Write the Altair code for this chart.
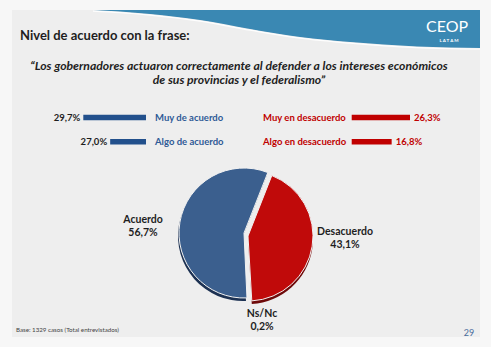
import math
import altair as alt
import pandas as pd

# ---------------- data ----------------
left_labels = ["Muy de acuerdo", "Algo de acuerdo"]
left_values = [29.7, 27.0]
right_labels = ["Muy en desacuerdo", "Algo en desacuerdo"]
right_values = [26.3, 16.8]
row_keys = ["Muy", "Algo"]

pie_labels = ["Desacuerdo", "Ns/Nc", "Acuerdo"]
pie_values = [43.1, 0.2, 56.7]

title_text = "Nivel de acuerdo con la frase:"
quote_lines = [
    "\u201cLos gobernadores actuaron correctamente al defender a los intereses econ\u00f3micos",
    "de sus provincias y el federalismo\u201d",
]
base_text = "Base: 1329 casos (Total entrevistados)"
page_text = "29"

# decorative header wave (lower edge of the blue band)
wave_x = [93, 120, 150, 200, 250, 300, 350, 417, 480]
wave_y = [10, 11.5, 14, 20, 29, 37, 42, 46.5, 48]


def fmt(v):
    return f"{v:.1f}".replace(".", ",") + "%"


left_df = pd.DataFrame({"row": row_keys, "label": left_labels, "value": left_values,
                        "txt": [fmt(v) for v in left_values]})
right_df = pd.DataFrame({"row": row_keys, "label": right_labels, "value": right_values,
                         "txt": [fmt(v) for v in right_values]})
pie_df = pd.DataFrame({"cat": pie_labels, "value": pie_values, "ord": [0, 1, 2],
                       "txt": [f"{c}\n{fmt(v)}" for c, v in zip(pie_labels, pie_values)]})
wave_df = pd.DataFrame({"x": wave_x, "y": wave_y})

FONT = "Lato"
BLUE_TXT = "#2e5a96"
RED = "#c00000"
DARK = "#1e1e1e"

W, H = 491, 347
TOP = 10

# identity pixel scales for the decorative header
px_x = alt.Scale(domain=[0, W], range=[0, W], zero=False, nice=False)
px_y = alt.Scale(domain=[0, H], range=[0, H], zero=False, nice=False)

# ---------------- background ----------------
panel = alt.Chart(pd.DataFrame({"a": [0]})).mark_rect(color="#eeeeee").encode(
    x=alt.value(12), x2=alt.value(480), y=alt.value(TOP), y2=alt.value(337))

wave = (alt.Chart(wave_df)
        .transform_calculate(top=str(TOP))
        .mark_area(interpolate="monotone", color="#3a88b3")
        .encode(x=alt.X("x:Q", scale=px_x, axis=None),
                y=alt.Y("y:Q", scale=px_y, axis=None, stack=None),
                y2="top:Q"))
wave_hl = alt.Chart(wave_df).transform_calculate(y2="datum.y + 1.2").mark_line(
    interpolate="monotone", color="#ffffff", strokeWidth=1.3, opacity=0.9).encode(
    x=alt.X("x:Q", scale=px_x, axis=None),
    y=alt.Y("y2:Q", scale=px_y, axis=None))

logo = alt.Chart(pd.DataFrame({"t": ["CEOP"]})).mark_text(
    font=FONT, fontSize=16, color="white", align="center", baseline="alphabetic").encode(
    x=alt.value(447), y=alt.value(32), text="t:N")
logo2 = alt.Chart(pd.DataFrame({"t": ["L  A  T  A  M"]})).mark_text(
    font=FONT, fontSize=4.5, fontWeight="bold", color="white", align="center",
    baseline="alphabetic").encode(x=alt.value(449), y=alt.value(42), text="t:N")

title = alt.Chart(pd.DataFrame({"t": [title_text]})).mark_text(
    font=FONT, fontSize=13, fontWeight="bold", color=DARK, align="left",
    baseline="alphabetic").encode(x=alt.value(20), y=alt.value(39.5), text="t:N")

quote = alt.Chart(pd.DataFrame({"t": ["\n".join(quote_lines)]})).mark_text(
    font=FONT, fontSize=12.2, fontWeight="bold", fontStyle="italic", color=DARK,
    align="center", baseline="alphabetic", lineBreak="\n", lineHeight=14).encode(
    x=alt.value(239), y=alt.value(70), text="t:N")

# ---------------- bars ----------------
yscale = alt.Scale(type="point", domain=row_keys, range=[117.5, 141.8], padding=0)
LMIN, RMIN = 23.4, -3.9
lscale = alt.Scale(domain=[LMIN, 29.7], range=[146, 83.3])
rscale = alt.Scale(domain=[RMIN, 26.3], range=[351.7, 410])

lbars = alt.Chart(left_df).mark_bar(color="#22508c", size=5.5).encode(
    x=alt.X("value:Q", scale=lscale, axis=None, stack=None), x2=alt.datum(LMIN),
    y=alt.Y("row:N", scale=yscale, axis=None))
ltxt = alt.Chart(left_df).mark_text(
    font=FONT, fontSize=9.5, fontWeight="bold", color=DARK, align="right",
    baseline="middle", dx=-3).encode(
    x=alt.X("value:Q", scale=lscale, axis=None),
    y=alt.Y("row:N", scale=yscale, axis=None), text="txt:N")
llab = alt.Chart(left_df).mark_text(
    font=FONT, fontSize=9.5, fontWeight="bold", color=BLUE_TXT, align="left",
    baseline="middle").encode(
    x=alt.value(155), y=alt.Y("row:N", scale=yscale, axis=None), text="label:N")

rbars = alt.Chart(right_df).mark_bar(color=RED, size=5.5).encode(
    x=alt.X("value:Q", scale=rscale, axis=None, stack=None), x2=alt.datum(RMIN),
    y=alt.Y("row:N", scale=yscale, axis=None))
rtxt = alt.Chart(right_df).mark_text(
    font=FONT, fontSize=9.5, fontWeight="bold", color=RED, align="left",
    baseline="middle", dx=4).encode(
    x=alt.X("value:Q", scale=rscale, axis=None),
    y=alt.Y("row:N", scale=yscale, axis=None), text="txt:N")
rlab = alt.Chart(right_df).mark_text(
    font=FONT, fontSize=9.5, fontWeight="bold", color=RED, align="left",
    baseline="middle").encode(
    x=alt.value(263), y=alt.Y("row:N", scale=yscale, axis=None), text="label:N")

# ---------------- pie ----------------
start = math.radians(21.5)
tscale = alt.Scale(domain=[0, 1], range=[start, start + 2 * math.pi])
CX, CY, R = 244, 233, 65


def pie_base():
    return (alt.Chart(pie_df)
            .transform_window(cum="sum(value)", sort=[alt.SortField("ord")], frame=[None, 0])
            .transform_joinaggregate(total="sum(value)")
            .transform_calculate(t0="(datum.cum - datum.value) / datum.total",
                                 t1="datum.cum / datum.total"))


def arc_layer(cats, colors, cx, cy, stroke=True):
    mk = dict(radius=R)
    if stroke:
        mk.update(stroke="#f2f2f2", strokeWidth=1)
    return (pie_base()
            .transform_filter(alt.FieldOneOfPredicate(field="cat", oneOf=cats))
            .mark_arc(**mk)
            .encode(theta=alt.Theta("t0:Q", scale=tscale),
                    theta2="t1:Q",
                    color=alt.Color("cat:N", scale=alt.Scale(domain=cats, range=colors),
                                    legend=None),
                    x=alt.value(cx), y=alt.value(cy)))


sh_blue = arc_layer(["Acuerdo"], ["#1c3152"], CX - 1, CY + 3, stroke=False)
sh_red = arc_layer(["Desacuerdo"], ["#6e0a0a"], CX + 4, CY + 6, stroke=False)
main_blue = arc_layer(["Acuerdo", "Ns/Nc"], ["#3b5f8e", "#d8d8d8"], CX, CY)
main_red = arc_layer(["Desacuerdo"], ["#c00a0a"], CX + 4, CY + 3)

label_pos = {"Acuerdo": (143, 220), "Desacuerdo": (345, 232), "Ns/Nc": (262, 314)}
pie_txt = []
for c, (px, py) in label_pos.items():
    pie_txt.append(
        alt.Chart(pie_df).transform_filter(alt.datum.cat == c).mark_text(
            font=FONT, fontSize=10.5, fontWeight="bold", color=DARK, align="center",
            baseline="middle", lineBreak="\n", lineHeight=13).encode(
            x=alt.value(px), y=alt.value(py), text="txt:N"))

# ---------------- footer ----------------
base = alt.Chart(pd.DataFrame({"t": [base_text]})).mark_text(
    font=FONT, fontSize=6.2, color="#444444", align="left", baseline="middle").encode(
    x=alt.value(16), y=alt.value(330), text="t:N")
page = alt.Chart(pd.DataFrame({"t": [page_text]})).mark_text(
    font=FONT, fontSize=9, color="#4a6d9c", align="center", baseline="middle").encode(
    x=alt.value(469), y=alt.value(333), text="t:N")

chart = alt.layer(
    panel, wave, wave_hl, logo, logo2, title, quote,
    lbars, ltxt, llab, rbars, rtxt, rlab,
    sh_blue, sh_red, main_blue, main_red, *pie_txt,
    base, page,
).resolve_scale(x="independent", y="independent", theta="independent",
                color="independent").properties(
    width=W, height=H, background="#f7f7f7", padding=0,
    autosize=alt.AutoSizeParams(type="none"),
).configure_view(stroke=None)

chart.save("out.html", embed_options={"renderer": "svg", "actions": False})
